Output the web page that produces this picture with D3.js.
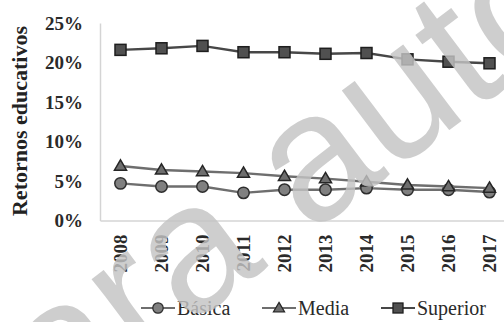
<!DOCTYPE html>
<html>
<head>
<meta charset="utf-8">
<script src="https://cdn.jsdelivr.net/npm/d3@7"></script>
<style>
  html, body { margin: 0; padding: 0; background: #fff; }
  svg { display: block; }
</style>
</head>
<body>
<svg id="chart" width="504" height="322"></svg>
<script>
// Returns to education by level, 2008-2017 (percent)
const years = ["2008", "2009", "2010", "2011", "2012", "2013", "2014", "2015", "2016", "2017"];
const basica = [4.7, 4.3, 4.3, 3.5, 3.9, 3.9, 4.1, 3.9, 3.9, 3.6];
const media = [6.9, 6.4, 6.2, 6.0, 5.6, 5.3, 4.9, 4.5, 4.3, 4.1];
const superior = [21.6, 21.8, 22.1, 21.3, 21.3, 21.1, 21.2, 20.4, 20.1, 19.9];
const yTicks = [0, 5, 10, 15, 20, 25];
const seriesNames = ["Básica", "Media", "Superior"];

const series = [
  { name: seriesNames[0], values: basica, shape: "circle", line: "#6e6e6e", fill: "#808080", stroke: "#2e2e2e" },
  { name: seriesNames[1], values: media, shape: "triangle", line: "#6e6e6e", fill: "#6e6e6e", stroke: "#262626" },
  { name: seriesNames[2], values: superior, shape: "square", line: "#474747", fill: "#505050", stroke: "#1e1e1e" }
];

const FONT = "Liberation Serif, Times New Roman, serif";

const svg = d3.select("#chart");

const x = d3.scaleBand().domain(years).range([100, 510]);
const y = d3.scaleLinear().domain([0, 25]).range([220.5, 23]);
const cx = d => x(d) + x.bandwidth() / 2;

// axes
const yAxis = svg.append("g").attr("transform", "translate(100,0)")
  .call(d3.axisLeft(y).tickValues(yTicks).tickSize(0).tickPadding(17).tickFormat(d => d + "%"));
yAxis.attr("font-family", FONT);
yAxis.select(".domain").attr("stroke", "#d4d4d4").attr("stroke-width", 1.5);
yAxis.selectAll("text").attr("font-size", 19).attr("font-weight", "bold").attr("fill", "#2a2a2a");

const xAxis = svg.append("g").attr("transform", "translate(0,220.5)")
  .call(d3.axisBottom(x).tickSize(0).tickPadding(14));
xAxis.attr("font-family", FONT);
xAxis.select(".domain").attr("stroke", "#d4d4d4").attr("stroke-width", 1.5);
xAxis.selectAll("text")
  .attr("font-size", 19).attr("font-weight", "bold").attr("fill", "#2a2a2a")
  .attr("text-anchor", "end")
  .attr("transform", "rotate(-90)")
  .attr("x", -14).attr("y", 0).attr("dy", "0.35em");

// axis title
svg.append("text")
  .attr("font-family", FONT)
  .attr("transform", "translate(27,121) rotate(-90)")
  .attr("text-anchor", "middle")
  .attr("font-size", 22).attr("font-weight", "bold").attr("fill", "#222")
  .text("Retornos educativos");

// markers
function marker(g, shape, s) {
  if (shape === "circle") return g.append("circle").attr("r", s * 0.52);
  if (shape === "square") return g.append("rect").attr("x", -s / 2).attr("y", -s / 2).attr("width", s).attr("height", s);
  const h = s * 0.9;
  return g.append("path").attr("d", `M0,${-h * 0.62}L${s * 0.55},${h * 0.42}L${-s * 0.55},${h * 0.42}Z`);
}

const line = d3.line().x(d => cx(d.year)).y(d => y(d.v));

series.forEach(s => {
  const pts = years.map((yr, i) => ({ year: yr, v: s.values[i] }));
  const g = svg.append("g");
  g.append("path").datum(pts).attr("d", line)
    .attr("fill", "none").attr("stroke", s.line).attr("stroke-width", 2.4);
  g.selectAll("g.pt").data(pts).join("g").attr("class", "pt")
    .attr("transform", d => `translate(${cx(d.year)},${y(d.v)})`)
    .each(function () {
      marker(d3.select(this), s.shape, 11)
        .attr("fill", s.fill).attr("stroke", s.stroke).attr("stroke-width", 1.5);
    });
});

// legend
const legendX = [141, 262, 381];
const legend = svg.append("g").attr("transform", "translate(0,308)");
series.forEach((s, i) => {
  const g = legend.append("g").attr("transform", `translate(${legendX[i]},0)`);
  g.append("line").attr("x1", 0).attr("x2", 34).attr("y1", 0).attr("y2", 0)
    .attr("stroke", s.line).attr("stroke-width", 2.2);
  marker(g.append("g").attr("transform", "translate(17,0)"), s.shape, 10)
    .attr("fill", s.fill).attr("stroke", s.stroke).attr("stroke-width", 1.3);
  g.append("text").attr("font-family", FONT).attr("x", 36).attr("y", 0).attr("dy", "0.35em")
    .attr("font-size", 20).attr("fill", "#2a2a2a")
    .text(s.name);
});

// watermark
svg.append("text")
  .attr("transform", "translate(-22,485) rotate(-37)")
  .attr("font-family", "Liberation Sans").attr("font-size", 182)
  .attr("fill", "#c4c4c4").attr("opacity", 0.82)
  .text("para autor");
</script>
</body>
</html>
